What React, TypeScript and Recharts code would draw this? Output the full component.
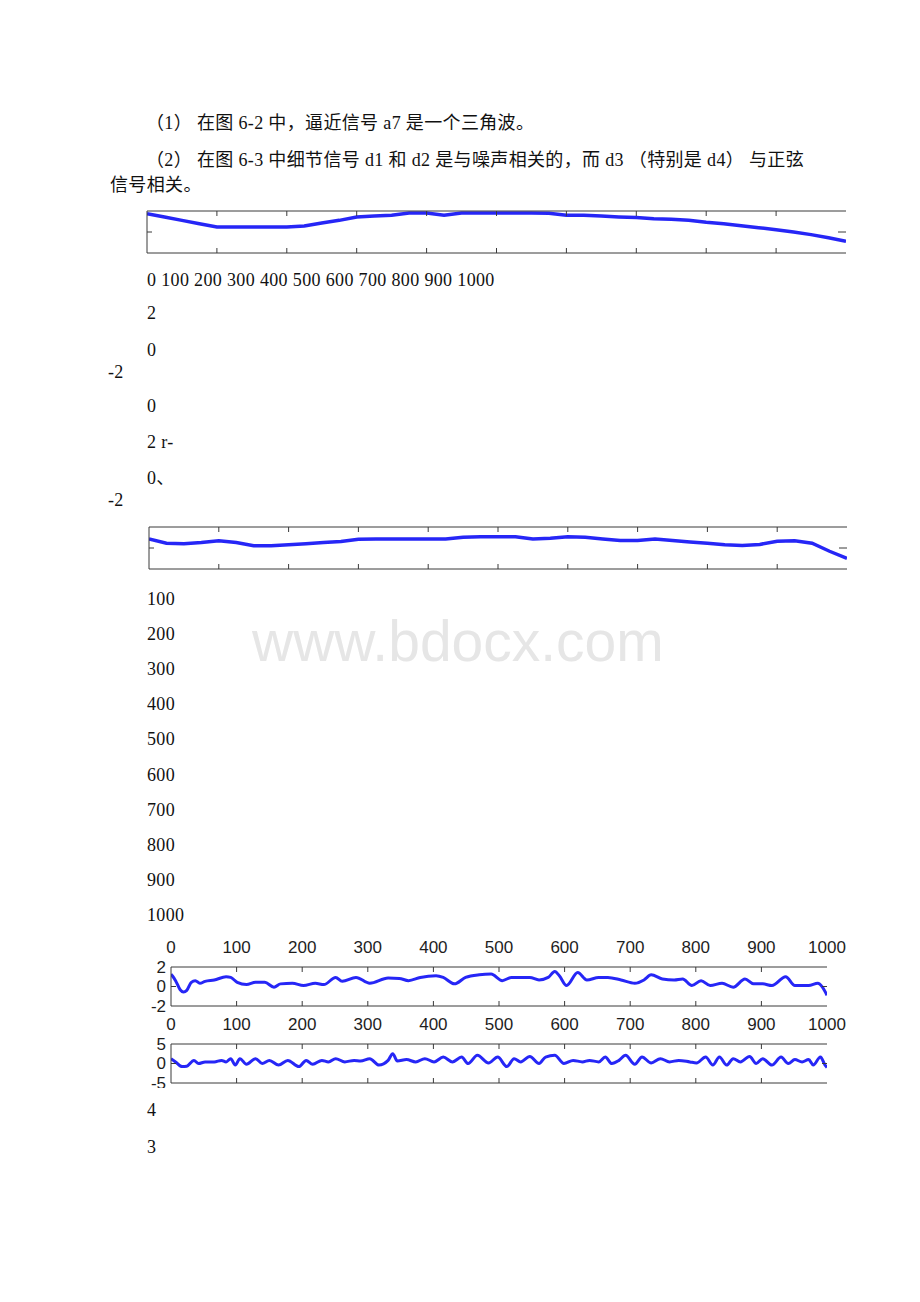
import React from 'react'
import { LineChart, Line, XAxis, YAxis } from 'recharts'

// tick positions shared by all four strips
const xTicks = [0, 100, 200, 300, 400, 500, 600, 700, 800, 900, 1000]
const innerTicks = [100, 200, 300, 400, 500, 600, 700, 800, 900]

// a7 approximation (top strip)
const a7X = [0, 25, 50, 75, 100, 125, 150, 175, 200, 225, 250, 275, 300, 325, 350, 375, 400, 425, 450, 475, 500, 525, 550, 575, 600, 625, 650, 675, 700, 725, 750, 775, 800, 825, 850, 875, 900, 925, 950, 975, 1000]
const a7Y = [1.75, 1.43, 1.11, 0.79, 0.48, 0.48, 0.48, 0.48, 0.48, 0.57, 0.86, 1.11, 1.43, 1.52, 1.59, 1.81, 1.81, 1.59, 1.81, 1.81, 1.81, 1.81, 1.81, 1.78, 1.59, 1.59, 1.52, 1.43, 1.37, 1.27, 1.21, 1.11, 0.92, 0.79, 0.6, 0.41, 0.22, 0.0, -0.25, -0.54, -0.89]

// second strip
const a6X = [0, 25, 50, 75, 100, 125, 150, 175, 200, 225, 250, 275, 300, 325, 350, 375, 400, 425, 450, 475, 500, 525, 550, 575, 600, 625, 650, 675, 700, 725, 750, 775, 800, 825, 850, 875, 900, 925, 950, 975, 1000]
const a6Y = [0.86, 0.46, 0.4, 0.52, 0.68, 0.52, 0.22, 0.22, 0.31, 0.4, 0.52, 0.62, 0.83, 0.86, 0.86, 0.86, 0.86, 0.86, 1.02, 1.08, 1.08, 1.08, 0.86, 0.92, 1.08, 1.02, 0.86, 0.71, 0.71, 0.86, 0.71, 0.58, 0.46, 0.31, 0.25, 0.34, 0.65, 0.68, 0.46, -0.31, -0.98]

// lower strip, range -2..2
const d3X = [0, 2, 7, 14, 19, 24, 31, 37, 44, 52, 66, 84, 91, 101, 115, 129, 143, 157, 167, 185, 202, 220, 233, 251, 261, 282, 303, 331, 348, 362, 380, 404, 415, 432, 449, 470, 488, 505, 519, 547, 561, 575, 585, 592, 603, 620, 634, 652, 666, 686, 707, 721, 732, 749, 767, 780, 794, 808, 822, 840, 857, 875, 888, 902, 916, 937, 951, 972, 986, 993, 1000]
const d3Y = [1.27, 1.1, 0.6, -0.33, -0.57, -0.4, 0.43, 0.6, 0.33, 0.53, 0.67, 1.0, 0.93, 0.43, 0.2, 0.43, 0.43, -0.07, 0.27, 0.33, 0.1, 0.33, 0.2, 0.93, 0.53, 0.93, 0.33, 0.87, 0.83, 0.6, 0.93, 1.1, 0.93, 0.27, 0.93, 1.2, 1.27, 0.6, 0.93, 0.93, 0.67, 0.93, 1.53, 1.1, 0.1, 1.43, 0.67, 0.93, 0.93, 0.67, 0.33, 0.67, 1.2, 0.77, 0.67, 0.77, 0.1, 0.6, 0.1, 0.33, -0.07, 0.77, 0.27, 0.27, 0.1, 1.0, 0.1, 0.1, 0.33, -0.07, -0.9]

// bottom strip, range -5..5
const d4X = [0, 7, 17, 24, 35, 42, 52, 66, 77, 84, 91, 98, 105, 115, 129, 139, 150, 164, 178, 195, 206, 216, 230, 240, 251, 265, 279, 289, 303, 317, 331, 338, 345, 359, 373, 387, 401, 415, 429, 443, 453, 467, 484, 498, 512, 523, 533, 547, 561, 571, 585, 599, 613, 627, 638, 652, 662, 672, 683, 693, 707, 718, 732, 746, 760, 774, 791, 801, 815, 826, 836, 847, 857, 868, 882, 892, 902, 916, 930, 941, 951, 962, 972, 979, 990, 997, 1000]
const d4Y = [1.25, 0.4, -0.8, -0.7, 0.8, 0, 0.4, 0.4, 0.8, 0.4, 1.25, -0.4, 1.25, -0.2, 1.25, 0, 0.8, -0.4, 0.8, -0.8, 0.8, -0.2, 0.8, 0.4, 1.25, 0.4, 0.8, 0.65, 1.25, -0.4, 0.8, 2.5, 0.65, 1.0, 0.4, 1.25, 0.4, 1.65, 0.4, 1.65, 0, 2.1, 0.15, 1.65, -0.8, 1.25, 0.4, 1.8, 0, 1.65, 2.1, 0, 0.8, 0.4, 0.8, 0.4, 1.65, 0, 0.8, 2.1, -0.2, 1.65, 0.15, 1.25, 0.4, 0.8, 0.4, 0.15, 1.65, -0.4, 1.65, -0.4, 1.25, 0.4, 1.8, 0, 1.25, -0.4, 1.65, 0, 1.0, 0.4, 1.0, -0.4, 1.65, -0.4, -1.0]

const toRows = (xs: number[], ys: number[]) => xs.map((x, i) => ({ x, y: ys[i] }))

const BLUE = '#1414f5'
const AXIS = '#3a3a3a'
const SANS = '"Liberation Sans", Arial, sans-serif'
const SERIF = '"Liberation Serif", "Noto Sans CJK SC", serif'

const textProps = { fill: '#1e1e1e', fontSize: 17, fontFamily: SANS }

// ticks point into the plot; labels (optional) sit outside
// side: which edge of the plot the axis sits on
const makeTick = (side: 'top' | 'bottom' | 'left' | 'right', len: number, label: boolean, edges: number[]) => (p: any) => {
  const v = p.payload.value
  const onEdge = edges.includes(v)
  let line = null
  let txt = null
  if (side === 'bottom') {
    if (!onEdge) line = <line x1={p.x} x2={p.x} y1={p.y} y2={p.y - len} stroke={AXIS} />
    if (label) txt = <text x={p.x} y={p.y + 18} textAnchor="middle" dominantBaseline="central" {...textProps}>{v}</text>
  } else if (side === 'top') {
    if (!onEdge) line = <line x1={p.x} x2={p.x} y1={p.y} y2={p.y + len} stroke={AXIS} />
    if (label) txt = <text x={p.x} y={p.y - 20} textAnchor="middle" dominantBaseline="central" {...textProps}>{v}</text>
  } else if (side === 'left') {
    if (!onEdge) line = <line x1={p.x} x2={p.x + len} y1={p.y} y2={p.y} stroke={AXIS} />
    if (label) txt = <text x={p.x - 5} y={p.y} textAnchor="end" dominantBaseline="central" {...textProps}>{v}</text>
  } else {
    if (!onEdge) line = <line x1={p.x} x2={p.x - len} y1={p.y} y2={p.y} stroke={AXIS} />
  }
  return (
    <g>
      {line}
      {txt}
    </g>
  )
}

// thin strip without labels
const Strip: React.FC<any> = ({ rows, left, top, width, height, yl, yr, xt, xb }) => (
  <div style={{ position: 'absolute', left, top }}>
    <LineChart width={width} height={height} data={rows} margin={{ top: 0, right: 0, bottom: 0, left: 0 }}>
      <XAxis xAxisId="b" dataKey="x" type="number" domain={[0, 1000]} allowDataOverflow ticks={innerTicks} interval={0} tick={makeTick('bottom', 5, false, [])} tickLine={false} tickSize={0} tickMargin={0} height={xb} stroke={AXIS} />
      <XAxis xAxisId="t" orientation="top" dataKey="x" type="number" domain={[0, 1000]} allowDataOverflow ticks={innerTicks} interval={0} tick={makeTick('top', 5, false, [])} tickLine={false} tickSize={0} tickMargin={0} height={xt} stroke={AXIS} />
      <YAxis yAxisId="l" type="number" domain={[-2, 2]} allowDataOverflow ticks={[0]} interval={0} tick={makeTick('left', 5, false, [])} tickLine={false} tickSize={0} tickMargin={0} width={yl} stroke={AXIS} />
      <YAxis yAxisId="r" orientation="right" type="number" domain={[-2, 2]} allowDataOverflow ticks={[0]} interval={0} tick={makeTick('right', 8, false, [])} tickLine={false} axisLine={false} tickSize={0} tickMargin={0} width={yr} stroke={AXIS} />
      <Line xAxisId="t" yAxisId="r" dataKey="y" stroke="none" dot={false} isAnimationActive={false} />
      <Line xAxisId="b" yAxisId="l" type="linear" dataKey="y" stroke={BLUE} strokeWidth={3.5} strokeOpacity={0.92} dot={false} isAnimationActive={false} />
    </LineChart>
  </div>
)

// strip with numbered axes
const Panel: React.FC<any> = ({ rows, top, height, range, yTicks, xt, xb, topLabels, bottomLabels }) => (
  <div style={{ position: 'absolute', left: 120, top }}>
    <LineChart width={730} height={height} data={rows} margin={{ top: 0, right: 0, bottom: 0, left: 0 }}>
      <XAxis xAxisId="b" dataKey="x" type="number" domain={[0, 1000]} allowDataOverflow ticks={xTicks} interval={0} tick={makeTick('bottom', 5, !!bottomLabels, [0, 1000])} tickLine={false} tickSize={0} tickMargin={0} height={xb} stroke={AXIS} />
      <XAxis xAxisId="t" orientation="top" dataKey="x" type="number" domain={[0, 1000]} allowDataOverflow ticks={xTicks} interval={0} tick={makeTick('top', 5, !!topLabels, [0, 1000])} tickLine={false} tickSize={0} tickMargin={0} height={xt} stroke={AXIS} />
      <YAxis yAxisId="l" type="number" domain={range} allowDataOverflow ticks={yTicks} interval={0} tick={makeTick('left', 5, true, [range[0], range[1]])} tickLine={false} tickSize={0} tickMargin={0} width={51} stroke={AXIS} />
      <YAxis yAxisId="r" orientation="right" type="number" domain={range} allowDataOverflow ticks={[0]} interval={0} tick={makeTick('right', 5, false, [])} tickLine={false} axisLine={false} tickSize={0} tickMargin={0} width={23} stroke={AXIS} />
      <Line xAxisId="t" yAxisId="r" dataKey="y" stroke="none" dot={false} isAnimationActive={false} />
      <Line xAxisId="b" yAxisId="l" type="monotone" dataKey="y" stroke={BLUE} strokeWidth={3} strokeOpacity={0.92} dot={false} isAnimationActive={false} />
    </LineChart>
  </div>
)

const Txt: React.FC<any> = ({ x, y, children }) => (
  <div style={{ position: 'absolute', left: x, top: y - 11, fontSize: 18, lineHeight: '22px', letterSpacing: '0.35px', fontFamily: SERIF, color: '#111', whiteSpace: 'pre' }}>
    {children}
  </div>
)

const lowerNumbers = ['100', '200', '300', '400', '500', '600', '700', '800', '900', '1000']
const lowerRows = [599, 634, 669, 704, 739, 775, 810, 845, 880, 915]

export default function App() {
  return (
    <div style={{ position: 'absolute', left: 0, top: 0, width: 920, height: 1302, background: '#fff', overflow: 'hidden' }}>
      <Txt x={146} y={123}>（1） 在图 6-2 中，逼近信号 a7 是一个三角波。</Txt>
      <Txt x={146} y={160}>（2） 在图 6-3 中细节信号 d1 和 d2 是与噪声相关的，而 d3 （特别是 d4） 与正弦</Txt>
      <Txt x={110} y={185}>信号相关。</Txt>

      <Strip rows={toRows(a7X, a7Y)} left={140} top={205} width={710} height={55} xt={6} xb={7} yl={7} yr={4} />

      <Txt x={147} y={280}>0 100 200 300 400 500 600 700 800 900 1000</Txt>
      <Txt x={147} y={313}>2</Txt>
      <Txt x={147} y={350}>0</Txt>
      <Txt x={108} y={372}>-2</Txt>
      <Txt x={147} y={406}>0</Txt>
      <Txt x={147} y={442}>2 r-</Txt>
      <Txt x={147} y={478}>0、</Txt>
      <Txt x={108} y={500}>-2</Txt>

      <Strip rows={toRows(a6X, a6Y)} left={140} top={521} width={711} height={55} xt={6} xb={7} yl={9} yr={4} />

      {lowerNumbers.map((n, i) => (
        <Txt key={n} x={147} y={lowerRows[i]}>{n}</Txt>
      ))}

      <div style={{ position: 'absolute', left: 252, top: 613, fontSize: 57, lineHeight: '57px', fontFamily: SANS, color: '#e6e6e6', whiteSpace: 'pre' }}>
        www.bdocx.com
      </div>

      <Panel rows={toRows(d3X, d3Y)} top={935} height={100} range={[-2, 2]} yTicks={[-2, 0, 2]} xt={32} xb={29} topLabels bottomLabels />
      <Panel rows={toRows(d4X, d4Y)} top={1035} height={53} range={[-5, 5]} yTicks={[-5, 0, 5]} xt={9} xb={5} />

      <Txt x={147} y={1110}>4</Txt>
      <Txt x={147} y={1147}>3</Txt>
    </div>
  )
}
